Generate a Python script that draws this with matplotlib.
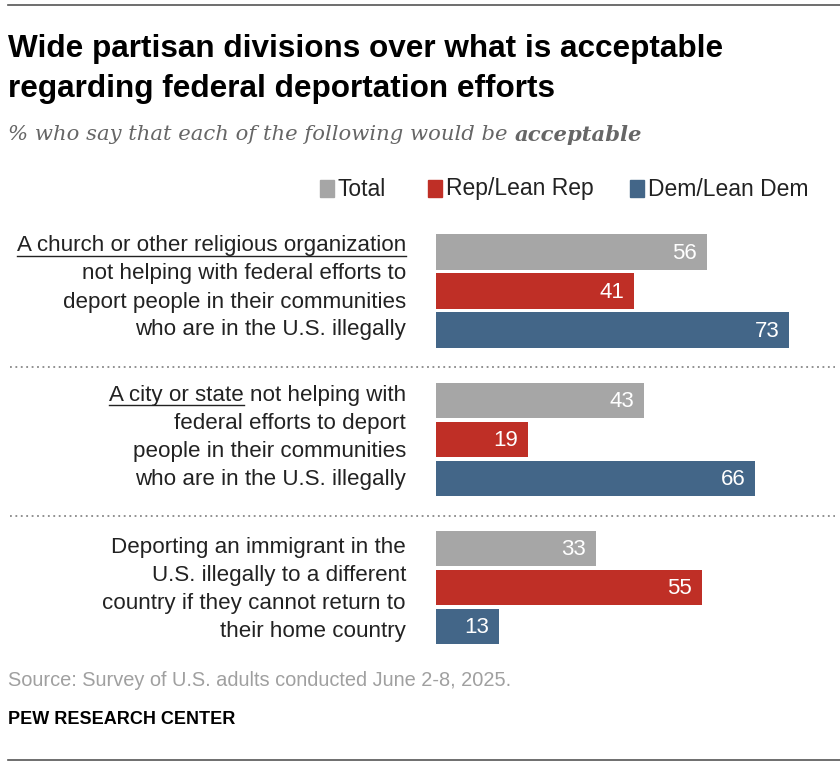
import matplotlib
matplotlib.use("Agg")
import matplotlib.pyplot as plt
from matplotlib.lines import Line2D
from matplotlib.patches import Rectangle

W, H = 840, 768

series = ["Total", "Rep/Lean Rep", "Dem/Lean Dem"]
colors = ["#a6a6a6", "#bf2f26", "#436688"]

total = [56, 43, 33]
rep = [41, 19, 55]
dem = [73, 66, 13]

labels = [
    ["A church or other religious organization",
     "not helping with federal efforts to",
     "deport people in their communities",
     "who are in the U.S. illegally"],
    ["A city or state not helping with",
     "federal efforts to deport",
     "people in their communities",
     "who are in the U.S. illegally"],
    ["Deporting an immigrant in the",
     "U.S. illegally to a different",
     "country if they cannot return to",
     "their home country"],
]
underlined = ["A church or other religious organization", "A city or state"]

title_lines = ["Wide partisan divisions over what is acceptable",
               "regarding federal deportation efforts"]
subtitle = "% who say that each of the following would be "
subtitle_bold = "acceptable"
source = "Source: Survey of U.S. adults conducted June 2-8, 2025."
credit = "PEW RESEARCH CENTER"

SANS = ["Liberation Sans", "DejaVu Sans"]
SERIF = ["DejaVu Serif"]
LABEL_SIZE = 16.1


def fx(x):
    return x / W


def fy(y):
    return 1 - y / H


fig = plt.figure(figsize=(W / 100, H / 100), dpi=100)
fig.patch.set_facecolor("white")
renderer = fig.canvas.get_renderer()

# bar axes
unit = 39.0
group_gap = 3.8
ylim_bottom = 10.1
ax = fig.add_axes([fx(436), fy(252 + ylim_bottom * unit), 80 * 4.836 / W, (ylim_bottom + 0.5) * unit / H])
ax.set_xlim(0, 80)
ax.set_ylim(ylim_bottom, -0.5)
ax.axis("off")

values = [total, rep, dem]
for g in range(3):
    for i in range(3):
        v = values[i][g]
        y = g * group_gap + i
        ax.barh(y, v, height=0.9, color=colors[i], edgecolor="none")
        ax.text(v - 2.0, y + 0.04, str(v), ha="right", va="center", color="white",
                fontsize=16, family=SANS)

# rules
fig.add_artist(Line2D([fx(8), fx(840)], [fy(5), fy(5)], color="#555555", lw=1.2))
fig.add_artist(Line2D([fx(8), fx(840)], [fy(760), fy(760)], color="#555555", lw=1.2))
for yy in (367, 516):
    fig.add_artist(Line2D([fx(10), fx(835)], [fy(yy), fy(yy)], color="#888888",
                          lw=1.3, linestyle=(0, (1, 2))))

# title and subtitle
for k, line in enumerate(title_lines):
    fig.text(fx(8), fy(49 + 40 * k), line, ha="left", va="center", fontsize=22.7,
             fontweight="bold", family=SANS, color="#000000")
st = fig.text(fx(8), fy(135), subtitle, ha="left", va="center", fontsize=15.2,
              style="italic", family=SERIF, color="#666666")
bb = st.get_window_extent(renderer)
fig.text(bb.x1 / W, fy(135), subtitle_bold, ha="left", va="center", fontsize=15.2,
         style="italic", fontweight="bold", family=SERIF, color="#666666")

# legend
leg_x = [320, 428, 630]
for name, c, x in zip(series, colors, leg_x):
    fig.add_artist(Rectangle((fx(x), fy(197)), 14 / W, 17 / H, color=c, transform=fig.transFigure))
    fig.text(fx(x + 18), fy(189), name, ha="left", va="center", fontsize=16.5,
             family=SANS, color="#222222")

# category labels
line_y = [[246, 274, 302, 330], [395, 423, 451, 479], [548, 576, 604, 632]]
for g, lines in enumerate(labels):
    for j, line in enumerate(lines):
        t = fig.text(fx(406), fy(line_y[g][j]), line, ha="right", va="center",
                     fontsize=LABEL_SIZE, family=SANS, color="#222222")
        if j == 0 and g < len(underlined):
            full = t.get_window_extent(renderer)
            tmp = fig.text(0, 0, underlined[g], fontsize=LABEL_SIZE, family=SANS)
            w = tmp.get_window_extent(renderer).width
            tmp.remove()
            uy = fy(line_y[g][j] + 10)
            fig.add_artist(Line2D([full.x0 / W, (full.x0 + w) / W], [uy, uy],
                                  color="#222222", lw=1.0))

# footer
fig.text(fx(8), fy(681), source, ha="left", va="center", fontsize=14.4,
         family=SANS, color="#a0a0a0")
fig.text(fx(8), fy(719), credit, ha="left", va="center", fontsize=13,
         fontweight="bold", family=SANS, color="#000000")

fig.savefig("out.png", dpi=100, facecolor="white")
